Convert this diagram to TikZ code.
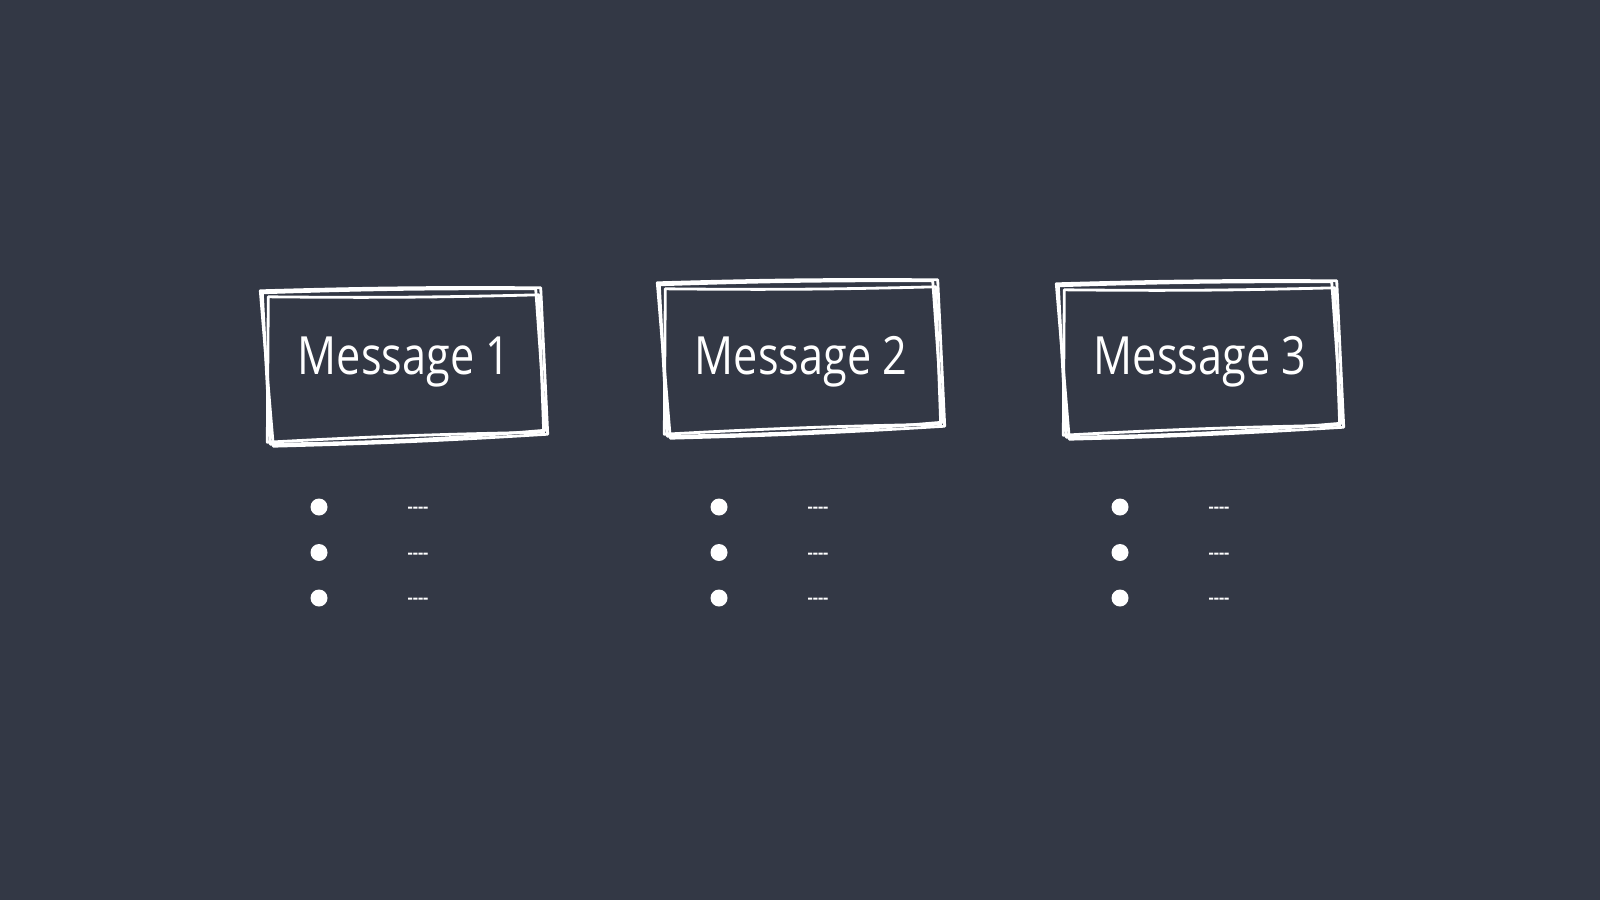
\documentclass[tikz,border=0pt]{standalone}
\usepackage{fontspec}
\newfontfamily\handfont[FakeStretch=0.82]{Open Sans}
\newfontfamily\notefont{Open Sans}
\usetikzlibrary{positioning}
\definecolor{slate}{RGB}{51,56,69}
\tikzstyle{msg}=[minimum width=2.76cm, minimum height=1.45cm, inner sep=0pt, text=white, font=\handfont\fontsize{15}{18}\selectfont]
\tikzstyle{sketch}=[draw=white, line width=0.8pt, line join=round, line cap=round]
\tikzstyle{dot}=[circle, fill=white, inner sep=0pt, minimum size=0.17cm]
\tikzstyle{note}=[text=white, inner sep=0pt, font=\notefont\bfseries\fontsize{4.6}{5}\selectfont]
% three rough outlines round a box node, moved up by #2
\newcommand{\sketchbox}[2]{%
    \draw [sketch] ([shift={(-0.03,-0.01)}, yshift=#2]#1.north west) to[bend left=1] ([shift={(-0.07,0.03)}, yshift=#2]#1.north east) -- ([shift={(0.03,0.08)}, yshift=#2]#1.south east) to[bend left=2] ([shift={(0.05,-0.06)}, yshift=#2]#1.south west) -- cycle;
    \draw [sketch] ([shift={(0.03,-0.05)}, yshift=#2]#1.north west) to[bend right=1] ([shift={(-0.04,-0.03)}, yshift=#2]#1.north east) -- ([shift={(0.01,0.06)}, yshift=#2]#1.south east) to[bend right=1] ([shift={(0.02,-0.04)}, yshift=#2]#1.south west) -- cycle;
    \draw [sketch] ([shift={(-0.05,0.01)}, yshift=#2]#1.north west) to[bend left=1] ([shift={(-0.02,0.04)}, yshift=#2]#1.north east) -- ([shift={(0.05,0.04)}, yshift=#2]#1.south east) to[bend left=1] ([shift={(0.08,-0.08)}, yshift=#2]#1.south west) -- cycle;
}

\begin{document}
\begin{tikzpicture}[node distance=3.98cm]
    \fill [slate] (0,0) rectangle (16,-9);
    \useasboundingbox (0,0) rectangle (16,-9);
    %
    \node (msg1) [msg] at (4.04,-3.62) {Message 1};
    \node (msg2) [msg, right of=msg1, node distance=3.97cm] {Message 2};
    \node (msg3) [msg, right of=msg2, node distance=3.99cm] {Message 3};
    \sketchbox{msg1}{-0.03cm}
    \sketchbox{msg2}{0.05cm}
    \sketchbox{msg3}{0.04cm}
    %
    \node (dot1a) [dot, below of=msg1, node distance=1.45cm, xshift=-0.85cm] {};
    \node (dot1b) [dot, below of=dot1a, node distance=0.455cm] {};
    \node (dot1c) [dot, below of=dot1b, node distance=0.455cm] {};
    \node (note1a) [note, right of=dot1a, node distance=0.99cm, yshift=-0.03cm] {----};
    \node (note1b) [note, right of=dot1b, node distance=0.99cm, yshift=-0.03cm] {----};
    \node (note1c) [note, right of=dot1c, node distance=0.99cm, yshift=-0.03cm] {----};
    %
    \node (dot2a) [dot, below of=msg2, node distance=1.45cm, xshift=-0.82cm] {};
    \node (dot2b) [dot, below of=dot2a, node distance=0.455cm] {};
    \node (dot2c) [dot, below of=dot2b, node distance=0.455cm] {};
    \node (note2a) [note, right of=dot2a, node distance=0.99cm, yshift=-0.03cm] {----};
    \node (note2b) [note, right of=dot2b, node distance=0.99cm, yshift=-0.03cm] {----};
    \node (note2c) [note, right of=dot2c, node distance=0.99cm, yshift=-0.03cm] {----};
    %
    \node (dot3a) [dot, below of=msg3, node distance=1.45cm, xshift=-0.80cm] {};
    \node (dot3b) [dot, below of=dot3a, node distance=0.455cm] {};
    \node (dot3c) [dot, below of=dot3b, node distance=0.455cm] {};
    \node (note3a) [note, right of=dot3a, node distance=0.99cm, yshift=-0.03cm] {----};
    \node (note3b) [note, right of=dot3b, node distance=0.99cm, yshift=-0.03cm] {----};
    \node (note3c) [note, right of=dot3c, node distance=0.99cm, yshift=-0.03cm] {----};
\end{tikzpicture}
\end{document}
